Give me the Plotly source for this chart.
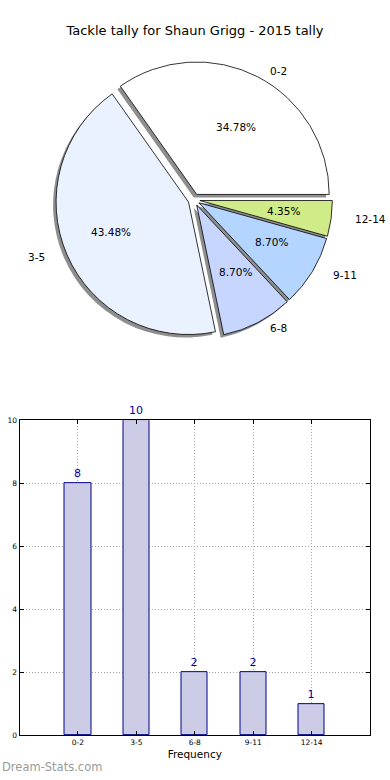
import math
import plotly.graph_objects as go

# ---------------- data ----------------
chart_title = "Tackle tally for Shaun Grigg - 2015 tally"
categories = ["0-2", "3-5", "6-8", "9-11", "12-14"]
games = [8, 10, 2, 2, 1]
slice_colors = ["#ffffff", "#eaf1ff", "#c6d6ff", "#b3d5ff", "#cfec88"]
x_title = "Frequency"
y_title = "Number of Games"
watermark = "Dream-Stats.com"

# ---------------- layout helpers ----------------
W, H = 390, 780
FONT = "DejaVu Sans"


def px(x):
    return x / W


def py(y):
    return 1 - y / H


total = sum(games)
# plotly (counterclockwise) puts the END of the first slice at `rotation`;
# we want the first slice to START at 3 o'clock, like matplotlib's startangle=0
rotation = 90 - 360 * games[0] / total

# pie geometry (pixels)
cx, cy = 194, 198
r = 134
pull = 0.045
half = r * (1 + pull)
sh = 3  # shadow offset

fig = go.Figure()

# shadow pie
fig.add_trace(go.Pie(
    labels=categories, values=games, sort=False, direction="counterclockwise",
    rotation=rotation, pull=[pull] * len(games), textinfo="none", hoverinfo="skip",
    marker=dict(colors=["#8e8e8e"] * len(games), line=dict(width=0)),
    domain=dict(x=[px(cx - half - sh), px(cx + half - sh)],
                y=[py(cy + half + sh), py(cy - half + sh)]),
    showlegend=False,
))

# main pie
fig.add_trace(go.Pie(
    labels=categories, values=games, sort=False, direction="counterclockwise",
    rotation=rotation, pull=[pull] * len(games), textinfo="none",
    marker=dict(colors=slice_colors, line=dict(color="black", width=0.8)),
    domain=dict(x=[px(cx - half), px(cx + half)], y=[py(cy + half), py(cy - half)]),
    showlegend=False,
))

# pie labels and percentages (matplotlib-style placement)
annotations = []
rx, ry = 140, 128
start = 0.0
for lab, v in zip(categories, games):
    frac = v / total
    theta = 2 * math.pi * (start + frac / 2)
    start += frac
    c, s = math.cos(theta), math.sin(theta)
    ox, oy = cx + pull * rx * c, cy - pull * ry * s
    annotations.append(dict(
        x=px(ox + 0.6 * rx * c), y=py(oy - 0.6 * ry * s), xref="paper", yref="paper",
        text=f"{frac * 100:.2f}%", showarrow=False, xanchor="center", yanchor="middle",
        font=dict(family=FONT, size=10.5, color="black")))
    annotations.append(dict(
        x=px(ox + 1.1 * rx * c), y=py(oy - 1.1 * ry * s), xref="paper", yref="paper",
        text=lab, showarrow=False, xanchor="left" if c > 0 else "right", yanchor="middle",
        font=dict(family=FONT, size=10.5, color="black")))

# bar chart
fig.add_trace(go.Bar(
    x=categories, y=games, width=0.45,
    marker=dict(color="#ccccE6", line=dict(color="#00008b", width=1)),
    text=[str(g) for g in games], textposition="outside", cliponaxis=False,
    textfont=dict(family=FONT, size=11, color="#0000a0"),
    showlegend=False,
))

annotations.append(dict(
    x=px(3), y=py(575), xref="paper", yref="paper", text=y_title, textangle=-90,
    showarrow=False, xanchor="right", yanchor="middle",
    font=dict(family=FONT, size=9, color="black")))
annotations.append(dict(
    x=0, y=py(772), xref="paper", yref="paper", text=watermark,
    showarrow=False, xanchor="left", yanchor="middle",
    font=dict(family=FONT, size=11.5, color="#9a9a9a")))

axis_common = dict(
    showline=True, linecolor="black", linewidth=1, mirror="allticks",
    ticks="inside", ticklen=4, tickcolor="black",
    showgrid=True, gridcolor="#a8a8a8", griddash="1px,2px", gridwidth=1,
    zeroline=False, tickfont=dict(family=FONT, size=7.5, color="black"),
)

fig.update_layout(
    width=W, height=H,
    margin=dict(l=0, r=0, t=0, b=0),
    paper_bgcolor="white", plot_bgcolor="white",
    showlegend=False,
    title=dict(text=chart_title, x=0.5, xanchor="center", y=py(30), yanchor="middle",
               font=dict(family=FONT, size=13, color="black")),
    xaxis=dict(domain=[px(19.5), px(370)], range=[-1, 5], type="category",
               title=dict(text=x_title, standoff=4, font=dict(family=FONT, size=10.5, color="black")),
               **axis_common),
    yaxis=dict(domain=[py(740), py(421)], range=[0, 10], dtick=2, **axis_common),
    annotations=annotations,
    bargap=0,
)

fig.write_html(
    "out.html",
    config={"displayModeBar": False},
    post_script="document.body.style.margin='0';document.body.style.overflow='hidden';",
)
